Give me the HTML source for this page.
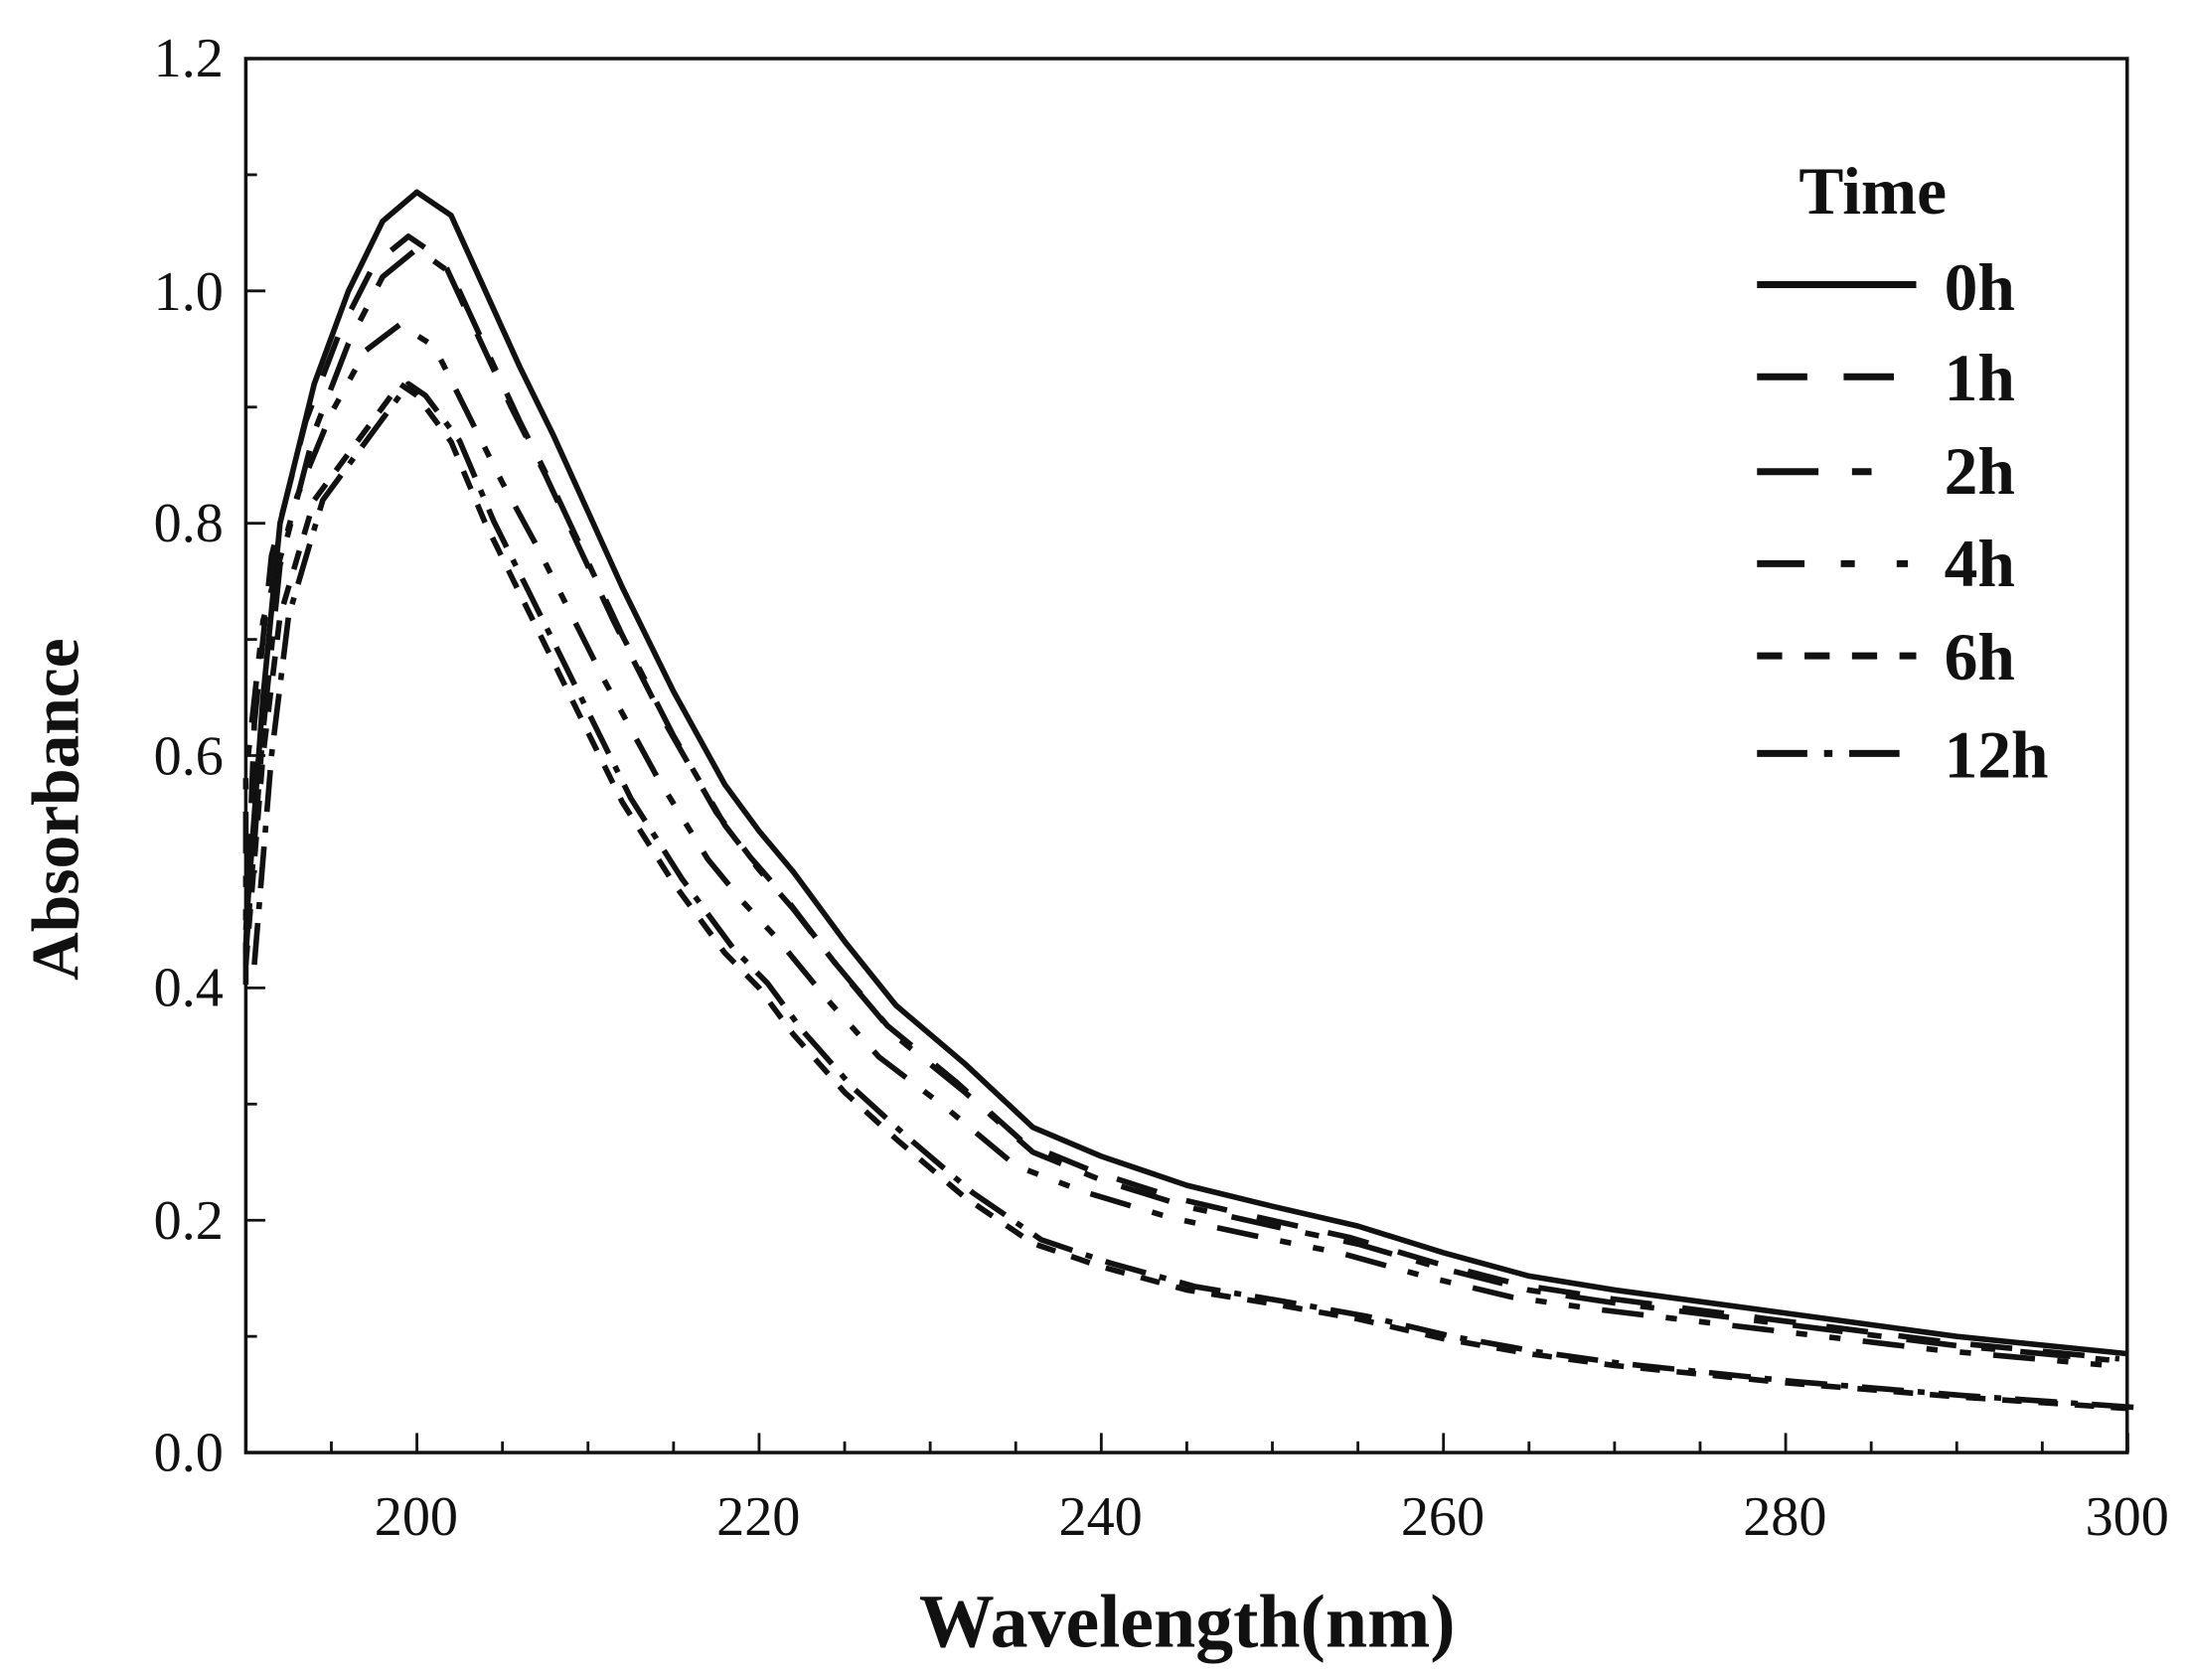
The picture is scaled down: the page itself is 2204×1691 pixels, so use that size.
<!DOCTYPE html>
<html><head><meta charset="utf-8"><style>
html,body{margin:0;padding:0;background:#fff;}
svg{display:block;}
text{font-family:"Liberation Serif",serif;fill:#111;}
</style></head><body>
<svg id="s" width="2204" height="1691" viewBox="0 0 1568 1204" preserveAspectRatio="none">
<rect x="0" y="0" width="1568" height="1204" fill="#fff"/>
<rect x="176" y="42" width="1347" height="999" fill="none" stroke="#111" stroke-width="2.5"/>
<g id="ticks" stroke="#111" stroke-width="2"></g>
<g font-size="40" text-anchor="end">
<text x="160" y="1054">0.0</text><text x="160" y="888">0.2</text><text x="160" y="721">0.4</text>
<text x="160" y="555">0.6</text><text x="160" y="388">0.8</text><text x="160" y="222">1.0</text><text x="160" y="55">1.2</text>
</g>
<g font-size="40" text-anchor="middle">
<text x="298" y="1100">200</text><text x="543" y="1100">220</text><text x="788" y="1100">240</text>
<text x="1033" y="1100">260</text><text x="1278" y="1100">280</text><text x="1523" y="1100">300</text>
</g>
<text x="850" y="1180" font-size="54" font-weight="bold" text-anchor="middle">Wavelength(nm)</text>
<text transform="translate(56,580) rotate(-90)" font-size="48" font-weight="bold" text-anchor="middle">Absorbance</text>
<g id="curves" fill="none" stroke="#111" stroke-width="4" stroke-linejoin="round"></g>
<g font-size="48" font-weight="bold">
<text x="1288" y="153">Time</text>
<text x="1392" y="222">0h</text><text x="1392" y="287">1h</text><text x="1392" y="354">2h</text>
<text x="1392" y="420">4h</text><text x="1392" y="487">6h</text><text x="1392" y="557">12h</text>
</g>
<g stroke="#111" stroke-width="5">
<line x1="1258" y1="204" x2="1372" y2="204"/>
<line x1="1258" y1="270" x2="1372" y2="270" stroke-dasharray="36 26"/>
<line x1="1258" y1="338" x2="1366" y2="338" stroke-dasharray="44 24 14 40"/>
<line x1="1258" y1="404" x2="1366" y2="404" stroke-dasharray="34 26 10 30 10 30"/>
<line x1="1258" y1="470" x2="1372" y2="470" stroke-dasharray="18 16"/>
<line x1="1258" y1="540" x2="1366" y2="540" stroke-dasharray="36 12 6 12"/>
</g>
</svg>
<script>
var X=function(w){return 176+(w-190)*12.25},Y=function(a){return 1041-a*832.5};
var t=document.getElementById('ticks'),h='';
for(var w=190;w<=300;w+=5){var L=(w%20==0)?14:8;h+='<line x1="'+X(w)+'" y1="1041" x2="'+X(w)+'" y2="'+(1041-L)+'"/>';}
for(var a=0;a<=1.2001;a+=0.1){var L=(Math.round(a*10)%2==0)?14:8;h+='<line x1="176" y1="'+Y(a)+'" x2="'+(176+L)+'" y2="'+Y(a)+'"/>';}
t.innerHTML=h;
var base=[[190,.45],[191,.65],[192,.8],[194,.92],[196,1.0],[198,1.06],[200,1.085],[202,1.065],[204,1.0],[206,.935],[208,.875],[210,.81],[212,.745],[215,.655],[218,.575],[220,.535],[222,.5],[225,.44],[228,.385],[232,.335],[236,.28],[240,.255],[245,.23],[250,.212],[255,.195],[260,.172],[265,.152],[270,.14],[280,.12],[290,.1],[300,.085]];
var fast=[[190,.42],[191,.6],[192,.72],[194,.82],[196,.86],[198,.9],[199,.92],[200,.91],[202,.87],[204,.8],[206,.74],[208,.68],[210,.62],[212,.56],[215,.49],[218,.43],[220,.4],[222,.36],[225,.31],[228,.27],[232,.22],[236,.18],[240,.16],[245,.14],[250,.128],[255,.115],[260,.098],[265,.085],[270,.075],[280,.06],[290,.048],[300,.038]];
function mk(d,sc,dx,endk){return d.map(function(p){var w=p[0],a=p[1];var f=w<=200?sc:(w>=240?endk:sc+(endk-sc)*(w-200)/40);return [w+dx,a*f];});}
var series=[
 [base,'none'],
 [mk(base,.965,-.5,.95),'30 22'],
 [mk(base,.955,0,.92),'36 18 10 18'],
 [mk(base,.895,-1,.88),'30 16 8 16 8 16'],
 [fast,'14 12'],
 [mk(fast,1.0,.5,1.02),'30 10 5 10']
];
var c=document.getElementById('curves'),s='';
series.forEach(function(S){var d='';S[0].forEach(function(p,i){var x=Math.max(176,X(p[0]));d+=(i?'L':'M')+x.toFixed(1)+','+Y(p[1]).toFixed(1);});
s+='<path d="'+d+'"'+(S[1]=='none'?'':' stroke-dasharray="'+S[1]+'"')+'/>';});
c.innerHTML=s;
</script>
</body></html>
